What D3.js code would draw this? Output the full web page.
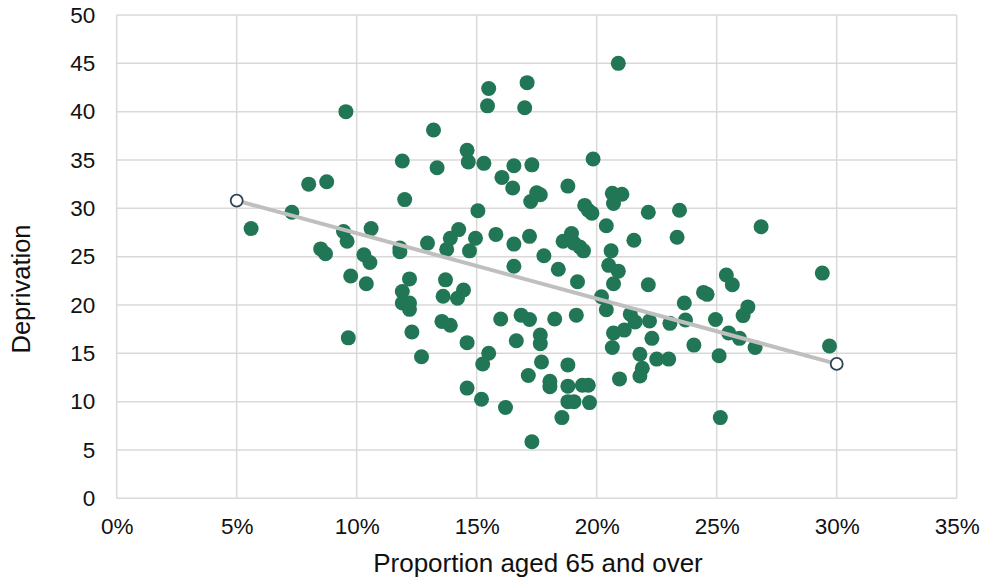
<!DOCTYPE html>
<html>
<head>
<meta charset="utf-8">
<script src="https://cdn.jsdelivr.net/npm/d3@7"></script>
<style>
  body { margin: 0; background: #fff; }
  svg { display: block; font-family: "Liberation Sans", Arial, sans-serif; }
</style>
</head>
<body>
<svg id="chart"></svg>
<script>
// proportion aged 65+ (%) and deprivation score
const propAged = [
  5.6, 7.3, 8.0, 8.75, 8.5, 8.7, 9.45, 9.6, 9.55, 9.75, 9.65, 10.3, 10.55, 10.4, 10.6,
  11.9, 12.0, 11.8, 11.8, 12.2, 11.9, 11.9, 12.2, 12.2, 12.3, 12.7, 12.95, 13.2, 13.35,
  13.7, 13.6, 13.75, 13.9, 14.2, 14.45, 13.55, 13.9, 14.25, 14.6, 14.65, 14.6, 14.6,
  14.7, 14.95, 15.05, 15.3, 15.5, 15.45, 15.5, 15.25, 15.2, 15.8, 16.05, 16.0, 16.2,
  16.55, 16.5, 16.55, 16.55, 16.65, 16.85, 17.1, 17.0, 17.3, 17.25, 17.2, 17.2, 17.15,
  17.3, 17.5, 17.65, 17.65, 17.65, 17.7, 17.8, 18.05, 18.05, 18.25, 18.4, 18.6, 18.55,
  18.8, 18.8, 18.8, 18.8, 18.95, 19.05, 19.05, 19.15, 19.2, 19.3, 19.45, 19.4, 19.5,
  19.65, 19.8, 19.65, 19.7, 19.85, 20.2, 20.4, 20.5, 20.4, 20.6, 20.65, 20.7, 20.7,
  20.7, 20.65, 20.9, 20.9, 20.95, 21.05, 21.15, 21.4, 21.6, 21.55, 21.8, 21.9, 21.8,
  22.15, 22.15, 22.2, 22.3, 22.5, 23.0, 23.05, 23.35, 23.45, 23.65, 23.7, 24.05, 24.45,
  24.6, 24.95, 25.1, 25.15, 25.4, 25.65, 25.5, 25.95, 26.1, 26.3, 26.6, 26.85, 29.4, 29.7
];
const deprivation = [
  27.9, 29.6, 32.5, 32.75, 25.8, 25.3, 27.6, 26.6, 40.0, 23.0, 16.6, 25.2, 24.4, 22.2, 27.9,
  34.9, 30.9, 25.9, 25.5, 22.7, 21.4, 20.2, 20.2, 19.55, 17.2, 14.65, 26.4, 38.1, 34.2,
  22.6, 20.9, 25.75, 26.9, 20.7, 21.55, 18.3, 17.9, 27.8, 36.0, 34.8, 16.1, 11.4,
  25.6, 26.9, 29.75, 34.65, 42.4, 40.6, 15.0, 13.9, 10.25, 27.3, 33.2, 18.55, 9.4,
  34.4, 32.1, 26.3, 24.0, 16.3, 18.95, 43.0, 40.4, 34.5, 30.7, 27.1, 18.5, 12.7,
  5.85, 31.6, 31.4, 16.9, 16.0, 14.1, 25.1, 12.1, 11.55, 18.55, 23.7, 26.6, 8.35,
  32.3, 13.8, 11.6, 10.0, 27.4, 26.4, 10.0, 18.95, 22.4, 26.0, 25.6, 11.7, 30.3,
  29.8, 29.5, 11.7, 9.9, 35.1, 20.85, 28.2, 24.1, 19.5, 25.6, 31.55, 30.5, 22.2,
  17.1, 15.6, 45.0, 23.5, 12.35, 31.45, 17.4, 19.05, 18.25, 26.7, 14.9, 13.45, 12.65,
  29.6, 22.1, 18.35, 16.55, 14.4, 14.4, 18.1, 27.0, 29.8, 20.2, 18.45, 15.85, 21.3,
  21.1, 18.5, 14.75, 8.35, 23.1, 22.1, 17.1, 16.55, 18.9, 19.8, 15.6, 28.1, 23.3, 15.75
];
// trend line end points
const trendX = [5, 30];
const trendY = [30.8, 13.9];

const xTicks = [0, 5, 10, 15, 20, 25, 30, 35];
const yTicks = [0, 5, 10, 15, 20, 25, 30, 35, 40, 45, 50];

const width = 986, height = 582;
const margin = { top: 15, right: 29.3, bottom: 83.7, left: 116.7 };
const innerW = width - margin.left - margin.right;
const innerH = height - margin.top - margin.bottom;

const svg = d3.select('#chart').attr('width', width).attr('height', height);
const g = svg.append('g').attr('transform', `translate(${margin.left},${margin.top})`);

const xScale = d3.scaleLinear().domain([0, 35]).range([0, innerW]);
const yScale = d3.scaleLinear().domain([0, 50]).range([innerH, 0]);

// grid
g.append('g')
  .selectAll('line')
  .data(yTicks)
  .join('line')
  .attr('x1', 0).attr('x2', innerW)
  .attr('y1', d => yScale(d)).attr('y2', d => yScale(d))
  .attr('stroke', '#d9d9d9').attr('stroke-width', 1.5);
g.append('g')
  .selectAll('line')
  .data(xTicks)
  .join('line')
  .attr('y1', 0).attr('y2', innerH)
  .attr('x1', d => xScale(d)).attr('x2', d => xScale(d))
  .attr('stroke', '#d9d9d9').attr('stroke-width', 1.5);

// axes (labels only)
const xAxis = g.append('g')
  .attr('transform', `translate(0,${innerH})`)
  .call(d3.axisBottom(xScale).tickValues(xTicks).tickSize(0).tickFormat(d => d + '%'));
xAxis.selectAll('text').attr('y', 35.5).attr('dy', 0);
const yAxis = g.append('g')
  .call(d3.axisLeft(yScale).tickValues(yTicks).tickSize(0).tickPadding(21.5));
[xAxis, yAxis].forEach(a => {
  a.select('.domain').remove();
  a.selectAll('text')
    .attr('fill', '#111')
    .style('font-size', '22.5px')
    .style('font-family', '"Liberation Sans", Arial, sans-serif');
});

const points = propAged.map((x, i) => ({ x, y: deprivation[i] }));

g.append('g')
  .selectAll('circle')
  .data(points)
  .join('circle')
  .attr('cx', d => xScale(d.x))
  .attr('cy', d => yScale(d.y))
  .attr('r', 7.5)
  .attr('fill', '#217656');

// trend line
const trend = trendX.map((x, i) => ({ x, y: trendY[i] }));
g.append('path')
  .datum(trend)
  .attr('fill', 'none')
  .attr('stroke', '#bfbfbf')
  .attr('stroke-width', 4)
  .attr('d', d3.line().x(d => xScale(d.x)).y(d => yScale(d.y)));
g.append('g')
  .selectAll('circle')
  .data(trend)
  .join('circle')
  .attr('cx', d => xScale(d.x))
  .attr('cy', d => yScale(d.y))
  .attr('r', 6)
  .attr('fill', '#fff')
  .attr('stroke', '#2c4454')
  .attr('stroke-width', 1.8);

// axis titles
svg.append('text')
  .attr('x', 538)
  .attr('y', 572)
  .attr('text-anchor', 'middle')
  .attr('fill', '#111')
  .style('font-size', '26px')
  .text('Proportion aged 65 and over');
svg.append('text')
  .attr('transform', 'translate(30,289) rotate(-90)')
  .attr('text-anchor', 'middle')
  .attr('fill', '#111')
  .style('font-size', '25.5px')
  .text('Deprivation');
</script>
</body>
</html>
